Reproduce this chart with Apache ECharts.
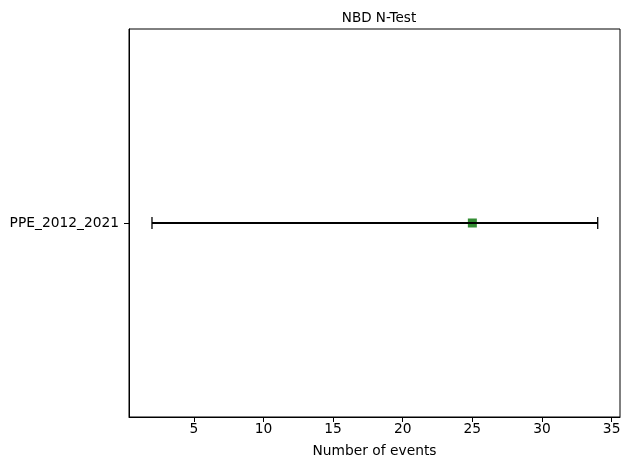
<!DOCTYPE html>
<html>
<head>
<meta charset="utf-8">
<script src="https://cdn.jsdelivr.net/npm/echarts@6/dist/echarts.min.js"></script>
<style>
  html, body { margin: 0; padding: 0; background: #fff; }
  #chart { width: 630px; height: 470px; }
</style>
</head>
<body>
<div id="chart"></div>
<script>
// forecast names and their N-test intervals
const categories = ['PPE_2012_2021'];
const lowerBound = [2];
const upperBound = [34];
const observed = [25];
const xTicks = [5, 10, 15, 20, 25, 30, 35];

const chart = echarts.init(document.getElementById('chart'));
const font = 'DejaVu Sans';

const option = {
  animation: false,
  title: {
    text: 'NBD N-Test',
    left: 374,
    top: 6,
    textAlign: 'center',
    textStyle: { fontFamily: font, fontSize: 13.5, fontWeight: 'normal', color: '#000' }
  },
  grid: {
    left: 129, right: 10, top: 29, bottom: 53,
    show: true, borderColor: '#000', borderWidth: 1
  },
  xAxis: {
    type: 'value',
    min: 0.35,
    max: 35.6,
    name: 'Number of events',
    nameLocation: 'middle',
    nameGap: 27,
    nameTextStyle: { fontFamily: font, fontSize: 13.8, color: '#000' },
    splitLine: { show: false },
    axisLine: { show: true, lineStyle: { color: '#000' } },
    axisTick: { show: true, length: 5, customValues: xTicks, lineStyle: { color: '#000' } },
    axisLabel: { customValues: xTicks, fontFamily: font, fontSize: 13.8, color: '#000', margin: 5 }
  },
  yAxis: {
    type: 'category',
    data: categories,
    axisLine: { show: true, lineStyle: { color: '#000' } },
    axisTick: { show: true, length: 5, alignWithLabel: true, lineStyle: { color: '#000' } },
    axisLabel: { fontFamily: font, fontSize: 13.8, color: '#000', margin: 10 }
  },
  series: [
    {
      type: 'scatter',
      symbol: 'rect',
      symbolSize: 9,
      itemStyle: { color: '#007000' },
      data: categories.map((c, i) => [observed[i], c]),
      z: 2
    },
    {
      type: 'custom',
      data: categories.map((c, i) => [lowerBound[i], upperBound[i], i]),
      renderItem: function (params, api) {
        const p1 = api.coord([api.value(0), api.value(2)]);
        const p2 = api.coord([api.value(1), api.value(2)]);
        const cap = 6;
        const style = { stroke: '#000', lineWidth: 2 };
        const capStyle = { stroke: '#000', lineWidth: 1.3 };
        return {
          type: 'group',
          children: [
            { type: 'line', shape: { x1: p1[0], y1: p1[1], x2: p2[0], y2: p2[1] }, style: style },
            { type: 'line', shape: { x1: p1[0], y1: p1[1] - cap, x2: p1[0], y2: p1[1] + cap }, style: capStyle },
            { type: 'line', shape: { x1: p2[0], y1: p2[1] - cap, x2: p2[0], y2: p2[1] + cap }, style: capStyle }
          ]
        };
      },
      z: 3
    }
  ]
};
chart.setOption(option);
</script>
</body>
</html>
